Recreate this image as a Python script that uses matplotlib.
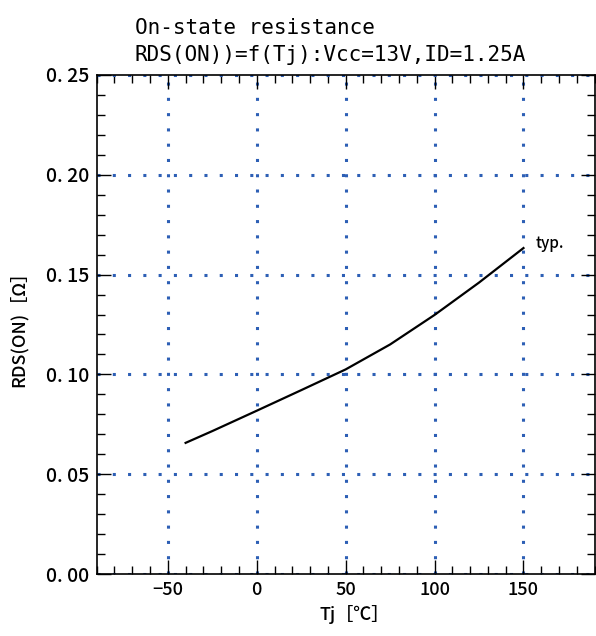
import matplotlib
matplotlib.use("Agg")
import matplotlib.pyplot as plt
from matplotlib.ticker import MultipleLocator, FuncFormatter

# typical on-state resistance vs junction temperature
tj = [-40, -25, 0, 25, 50, 75, 100, 125, 150]
rds_on = [0.0657, 0.0716, 0.0818, 0.0921, 0.1025, 0.1150, 0.1298, 0.1460, 0.1633]

x_ticks = [-50, 0, 50, 100, 150]
y_ticks = [0.00, 0.05, 0.10, 0.15, 0.20, 0.25]

GRID_BLUE = "#2d5fb5"
LABEL_FONT = ["Noto Sans CJK JP", "DejaVu Sans"]
TITLE_FONT = ["DejaVu Sans Mono", "Noto Sans CJK JP"]

fig = plt.figure(figsize=(5.96, 6.36), dpi=100)
ax = fig.add_axes([96.7 / 596, 1 - 574 / 636, (594.6 - 96.7) / 596, (574 - 75) / 636])

ax.plot(tj, rds_on, color="black", lw=1.6, zorder=3)
ax.text(157, 0.1655, "typ.", fontsize=11, family=LABEL_FONT, fontweight="medium",
        va="center", ha="left")

ax.set_xlim(-90, 190)
ax.set_ylim(0, 0.25)
ax.set_xticks(x_ticks)
ax.set_yticks(y_ticks)
ax.xaxis.set_minor_locator(MultipleLocator(10))
ax.yaxis.set_minor_locator(MultipleLocator(0.01))
ax.yaxis.set_major_formatter(FuncFormatter(lambda v, p: "{:.2f}".format(v).replace(".", ". ")))

ax.grid(True, which="major", color=GRID_BLUE, linestyle=(0, (1, 4)), linewidth=2.2,
        dash_capstyle="butt")

ax.tick_params(which="both", direction="in", top=True, right=True, width=1.0, color="black")
ax.tick_params(which="major", length=10)
ax.tick_params(axis="y", which="major", pad=5.5)
ax.tick_params(axis="x", which="major", pad=5)
ax.tick_params(which="minor", length=5.5)
for sp in ax.spines.values():
    sp.set_linewidth(1.2)

for lab in ax.get_xticklabels():
    lab.set_family(LABEL_FONT)
    lab.set_fontsize(13)
    lab.set_fontweight("medium")
for lab in ax.get_yticklabels():
    lab.set_family(LABEL_FONT)
    lab.set_fontsize(14)
    lab.set_fontweight("medium")

ax.set_xlabel("Tj［℃］", family=LABEL_FONT, fontsize=13, fontweight="medium", labelpad=4)
ax.xaxis.label.set_x(0.518)
ax.set_ylabel("RDS(ON)［Ω］", family=LABEL_FONT, fontsize=13, fontweight="medium", labelpad=13)

fig.text(135 / 596, 1 - 34 / 636, "On-state resistance", family=TITLE_FONT,
         fontsize=15.1, ha="left", va="baseline")
fig.text(135 / 596, 1 - 61 / 636, "RDS(ON))=f(Tj):Vcc=13V,ID=1.25A", family=TITLE_FONT,
         fontsize=15.1, ha="left", va="baseline")

fig.savefig("out.png", dpi=100)
